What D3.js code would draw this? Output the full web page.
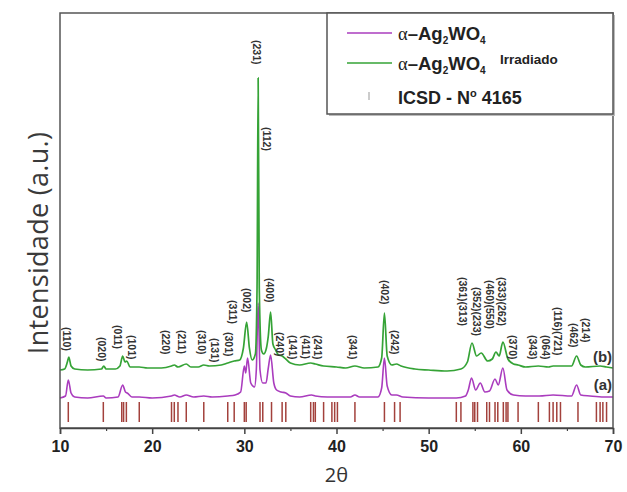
<!DOCTYPE html>
<html>
<head>
<meta charset="utf-8">
<script src="https://cdn.jsdelivr.net/npm/d3@7/dist/d3.min.js"></script>
<style>
  html, body { margin: 0; padding: 0; background: #fff; }
  svg { display: block; }
</style>
</head>
<body>
<svg id="chart" width="627" height="492"></svg>
<script>
// ---------------- DATA ----------------
// x: 2θ (degrees); y: stacked intensity (a.u., offset traces)
const seriesB = [ // α-Ag2WO4 irradiado (green, trace b)
  [10.0,58],[10.5,59],[10.8,66],[10.95,71],[11.2,62],[11.6,59],[13.0,58],[14.5,59],[14.75,62],[15.0,59],
  [16.0,59],[16.5,62],[16.8,72],[17.05,66],[17.25,67],[17.6,61],[18.6,61],[19.5,60],[21.0,60],[22.1,62],
  [22.4,63],[22.8,61],[23.7,64],[24.2,61],[25.0,61],[25.6,63],[26.2,62],[27.5,63],[28.2,65],[28.9,67],
  [29.5,68],[29.9,80],[30.25,106],[30.55,80],[30.85,68],[31.2,74],[31.38,140],[31.5,350],[31.62,140],[31.85,78],
  [32.1,74],[32.4,80],[32.6,92],[32.85,116],[33.1,84],[33.4,78],[33.7,73],[34.1,72],[34.5,69],[35.0,65],
  [36.0,63],[37.2,65],[37.7,64],[38.6,62],[40.0,61],[41.0,60],[42.0,62],[43.0,60],[44.5,61],[44.9,70],
  [45.2,115],[45.5,72],[46.0,63],[46.5,64],[47.0,62],[48.5,59],[50.0,58],[52.0,57],[53.5,59],[54.2,66],
  [54.7,85],[55.2,72],[55.7,75],[56.4,67],[56.9,69],[57.3,76],[57.65,72],[58.05,86],[58.6,69],[59.2,64],
  [59.7,63],[60.5,61],[61.9,62],[63.0,61],[63.5,62],[64.3,62],[65.5,62],[66.05,72],[66.5,63],[67.0,61],
  [68.6,62],[69.3,61],[70.0,60]
];
const seriesA = [ // α-Ag2WO4 (purple, trace a)
  [10.0,30],[10.6,32],[10.9,48],[11.2,35],[11.6,31],[13.0,30],[14.7,32],[15.0,30],[16.3,31],[16.8,43],
  [17.1,36],[17.3,35],[17.8,31],[18.6,31],[20.0,30],[22.1,32],[22.4,33],[23.0,31],[23.7,33],[24.5,31],
  [25.6,32],[26.5,31],[28.2,32],[29.0,33],[29.6,36],[30.0,62],[30.15,55],[30.35,70],[30.7,45],[31.1,41],
  [31.3,58],[31.5,125],[31.7,58],[32.0,45],[32.35,45],[32.6,60],[32.85,73],[33.2,45],[33.5,38],[34.0,36],
  [34.5,35],[35.0,32],[36.0,31],[37.3,33],[37.7,32],[39.0,31],[40.0,31],[41.5,31],[42.0,33],[42.5,31],
  [44.5,31],[44.9,40],[45.2,70],[45.5,42],[46.0,33],[46.5,33],[47.2,31],[50.0,30],[53.0,30],[54.0,32],
  [54.3,38],[54.65,50],[55.1,38],[55.6,45],[56.1,36],[56.6,37],[57.2,49],[57.55,43],[58.05,60],[58.5,38],
  [59.2,33],[60.5,32],[62.0,32],[63.5,33],[65.5,32],[66.05,43],[66.5,33],[67.5,32],[69.0,31],[70.0,31]
];
// ICSD N° 4165 reference reflections (2θ)
const icsdPositions = [10.9,14.7,16.7,16.9,17.2,18.6,22.1,22.4,22.8,23.7,25.6,28.2,28.9,30.0,30.2,31.7,32.0,32.95,
  34.1,34.5,37.2,37.5,37.7,38.6,39.5,39.8,40.1,42.0,45.2,46.3,46.9,53.0,53.5,54.8,55.0,55.3,56.3,56.6,57.2,57.5,
  58.1,58.4,58.6,59.7,61.9,63.1,63.5,63.9,64.3,66.2,68.2,68.6,68.9,69.3];
const icsdLow = 6, icsdHigh = 26;
// Miller-index annotations: text, 2θ, top level (a.u.)
const hklText = ["(110)","(020)","(011)","(101)","(220)","(211)","(310)","(131)","(301)","(311)","(002)","(231)",
  "(112)","(400)","(240)","(141)","(411)","(241)","(341)","(402)","(242)","(361)(313)","(352)(233)","(460)(550)",
  "(333)(262)","(370)","(343)","(064)","(116)(721)","(462)","(214)"];
const hklPos = [10.76,14.56,16.29,17.81,21.5,23.24,25.4,26.8,28.3,28.77,30.29,31.37,32.46,32.78,33.87,35.28,36.69,
  37.99,41.79,45.26,46.35,53.72,55.24,56.65,57.95,59.15,61.32,62.73,64.03,65.77,67.07];
const hklTop = [101,91,103,93,98,98,98,90,96,128,140,388,301,150,96,93,93,93,93,148,98,151,141,148,151,93,93,93,121,105,110];
const xTicks = [10,20,30,40,50,60,70];
const xMinor = [15,25,35,45,55,65];
const traceNames = ["(b)","(a)"];
const traceLabelLevel = [66,38];

// ---------------- LAYOUT ----------------
const svg = d3.select("#chart");
const L = 60, R = 613, T = 13, B = 428;
const x = d3.scaleLinear().domain([10,70]).range([L,R]);
const y = d3.scaleLinear().domain([0,415]).range([B,T]);
const green = "#35a336", purple = "#aa3cbe", tickRed = "#a3413c";

// ICSD ticks
svg.append("g").selectAll("line").data(icsdPositions).join("line")
  .attr("x1", d=>x(d)).attr("x2", d=>x(d))
  .attr("y1", y(icsdLow)).attr("y2", y(icsdHigh))
  .attr("stroke", tickRed).attr("stroke-width", 1.5);

const line = d3.line().x(d=>x(d[0])).y(d=>y(d[1])).curve(d3.curveMonotoneX);
svg.append("path").datum(seriesA).attr("d", line).attr("fill","none")
  .attr("stroke", purple).attr("stroke-width", 1.6);
svg.append("path").datum(seriesB).attr("d", line).attr("fill","none")
  .attr("stroke", green).attr("stroke-width", 1.7);

// hkl labels
svg.append("g").selectAll("text").data(hklText).join("text")
  .attr("transform", (d,i)=>`translate(${x(hklPos[i])},${y(hklTop[i])}) rotate(90)`)
  .attr("text-anchor","start").attr("dy","0.35em")
  .attr("font-family","Liberation Sans, Arial, sans-serif").attr("font-size",10.5)
  .attr("font-weight","bold").attr("fill","#333").text(d=>d);

// trace labels
svg.append("g").selectAll("text").data(traceNames).join("text")
  .attr("x", x(69.9)).attr("y", (d,i)=>y(traceLabelLevel[i]))
  .attr("text-anchor","end")
  .attr("font-family","Liberation Sans, Arial, sans-serif").attr("font-size",15)
  .attr("font-weight","bold").attr("fill","#333").text(d=>d);

// frame
svg.append("rect").attr("x",L).attr("y",T).attr("width",R-L).attr("height",B-T)
  .attr("fill","none").attr("stroke","#555").attr("stroke-width",1.5);

// x axis
const xAxis = svg.append("g").attr("transform",`translate(0,${B})`)
  .call(d3.axisBottom(x).tickValues(xTicks).tickSize(6).tickFormat(d3.format("d")));
xAxis.select(".domain").attr("stroke","#444").attr("stroke-width",1.5);
xAxis.selectAll(".tick line").attr("stroke","#444").attr("stroke-width",1.5);
xAxis.selectAll("text").attr("font-family","Liberation Sans, Arial, sans-serif")
  .attr("font-size",16).attr("font-weight","bold").attr("fill","#222").attr("dy","0.95em");
const xMinorAxis = svg.append("g").attr("transform",`translate(0,${B})`)
  .call(d3.axisBottom(x).tickValues(xMinor).tickSize(3).tickFormat(""));
xMinorAxis.select(".domain").remove();
xMinorAxis.selectAll(".tick line").attr("stroke","#444").attr("stroke-width",1.2);

// axis titles
svg.append("text").attr("x", (L+R)/2).attr("y", 482).attr("text-anchor","middle")
  .attr("font-family","Open Sans, sans-serif").attr("font-size",20).attr("fill","#333").text("2θ");
svg.append("text").attr("transform",`translate(48,243) rotate(-90)`)
  .attr("text-anchor","middle")
  .attr("font-family","Open Sans, sans-serif").attr("font-size",27).attr("fill","#3a3a3a")
  .attr("letter-spacing",0.3)
  .text("Intensidade (a.u.)");

// legend
const lg = svg.append("g");
lg.append("rect").attr("x",329).attr("y",15).attr("width",286).attr("height",101).attr("fill","#bbb");
lg.append("rect").attr("x",327).attr("y",13).attr("width",286).attr("height",101)
  .attr("fill","#fff").attr("stroke","#555").attr("stroke-width",1.5);
const legendColors = [purple, green];
const legendRows = [33, 63];
legendColors.forEach((c,i)=>{
  lg.append("line").attr("x1",347).attr("x2",392).attr("y1",legendRows[i]).attr("y2",legendRows[i])
    .attr("stroke",c).attr("stroke-width",1.7);
  const t = lg.append("text").attr("x",398).attr("y",legendRows[i]+7)
    .attr("font-family","Liberation Sans, Arial, sans-serif").attr("font-size",18.5)
    .attr("font-weight","bold").attr("fill","#222");
  t.append("tspan").attr("font-weight","normal").attr("font-family","Liberation Serif, serif").text("α");
  t.append("tspan").text("–Ag");
  t.append("tspan").attr("font-size",10).attr("dy",4).text("2");
  t.append("tspan").attr("dy",-4).text("WO");
  t.append("tspan").attr("font-size",10).attr("dy",4).text("4");
});
lg.append("text").attr("x",500).attr("y",legendRows[1]+1)
  .attr("font-family","Liberation Sans, Arial, sans-serif").attr("font-size",13.5)
  .attr("font-weight","bold").attr("fill","#222").text("Irradiado");
lg.append("line").attr("x1",369).attr("x2",369).attr("y1",92).attr("y2",100)
  .attr("stroke","#bbb").attr("stroke-width",1.5);
const t3 = lg.append("text").attr("x",398).attr("y",104)
  .attr("font-family","Liberation Sans, Arial, sans-serif").attr("font-size",18)
  .attr("font-weight","bold").attr("fill","#222");
t3.append("tspan").text("ICSD - N");
t3.append("tspan").attr("font-size",11).attr("dy",-7).text("o");
t3.append("tspan").attr("dy",7).text(" 4165");
</script>
</body>
</html>
